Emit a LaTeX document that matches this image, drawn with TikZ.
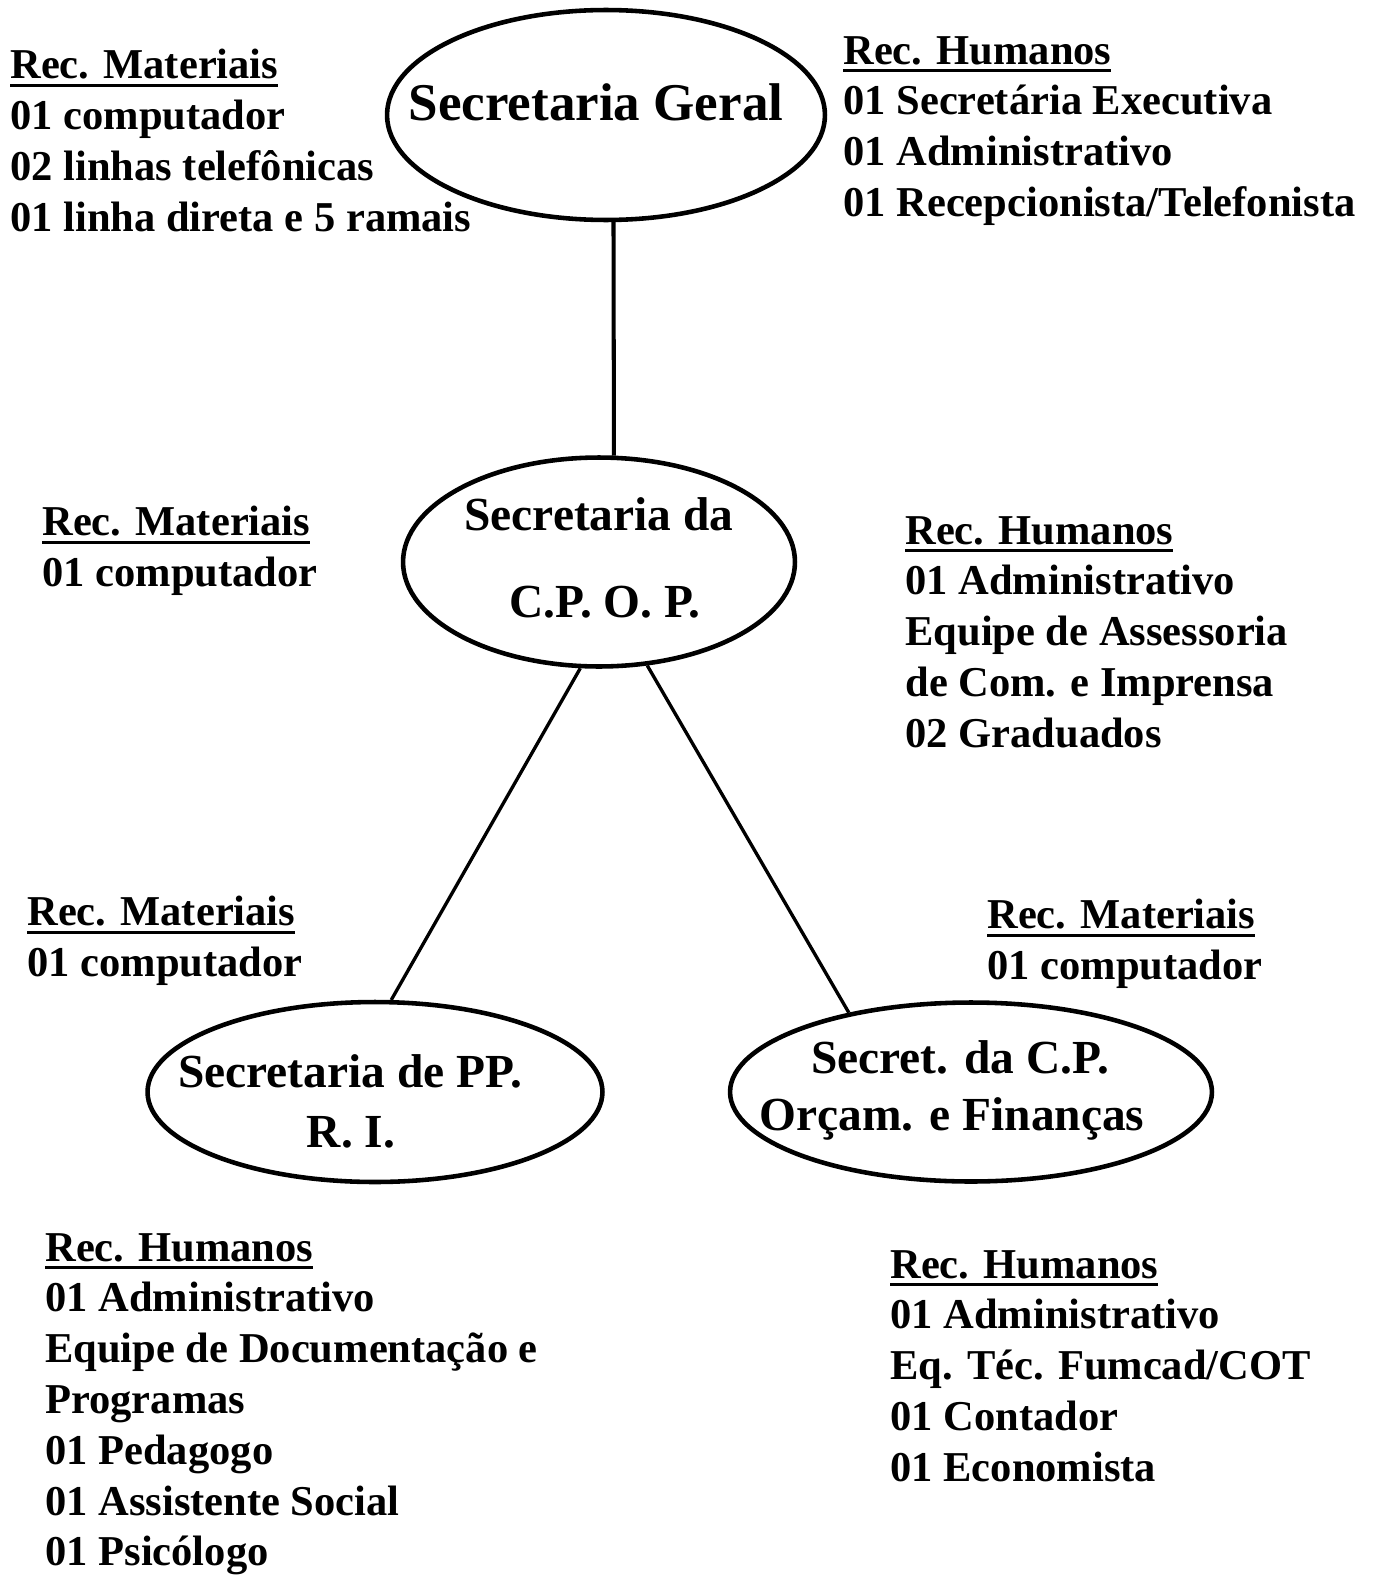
\documentclass[tikz,border=0pt]{standalone}
\usepackage{fontspec}
\setmainfont{Liberation Serif}
\usetikzlibrary{shapes.geometric}
\newcommand\myul[1]{\setbox0\hbox{#1}\rlap{\rule[-4.6pt]{\wd0}{1.7pt}}\box0}
\tikzset{
  ell/.style={shape=ellipse, draw, line width=2.6pt, inner sep=0pt},
  conn/.style={line width=1.9pt},
  info/.style={anchor=north west, inner sep=0pt, align=left,
    font=\bfseries\fontsize{24.2}{28.9}\selectfont},
  etext/.style={anchor=base, inner sep=0pt, align=center,
    font=\bfseries\fontsize{27}{30}\selectfont},
}
\begin{document}
\begin{tikzpicture}[x=0.02cm, y=-0.02cm]
\useasboundingbox[fill=white] (0,0) rectangle (1380,1575);

% ellipses
\node[ell, minimum width=8.76cm, minimum height=4.2cm] (e1) at (606,115) {};
\node[ell, minimum width=7.84cm, minimum height=4.18cm] (e2) at (599,562) {};
\node[ell, minimum width=9.1cm, minimum height=3.6cm] (e3) at (375,1092) {};
\node[ell, minimum width=9.64cm, minimum height=3.58cm] (e4) at (971,1092) {};

% ellipse texts
\node[etext, font=\bfseries\fontsize{30.2}{34}\selectfont] (t1) at (596,120) {Secretaria Geral};
\node[etext] (t2a) at (599,530) {Secretaria da};
\node[etext] (t2b) at (605,617) {C.P. O. P.};
\node[etext] (t3a) at (350,1087) {Secretaria de PP.};
\node[etext] (t3b) at (351,1147) {R. I.};
\node[etext] (t4a) at (960,1073) {Secret. da C.P.};
\node[etext] (t4b) at (952,1130) {Orçam. e Finanças};

% connectors
\draw[conn, line width=2.3pt] (e1.-86) -- (e2.82);
\draw[conn] (e2.-100) -- (e3.80.5);
\draw[conn] (e2.-65.4) -- (e4.147.3);

% info blocks
\node[info] (b1) at (10,49) {\myul{Rec. Materiais}\\01 computador\\02 linhas telefônicas\\01 linha direta e 5 ramais};
\node[info] (b2) at (843,36) {\myul{Rec. Humanos}\\01 Secretária Executiva\\01 Administrativo\\01 Recepcionista/Telefonista};
\node[info] (b3) at (42,506) {\myul{Rec. Materiais}\\01 computador};
\node[info] (b4) at (905,516) {\myul{Rec. Humanos}\\01 Administrativo\\Equipe de Assessoria\\de Com. e Imprensa\\02 Graduados};
\node[info] (b5) at (27,896) {\myul{Rec. Materiais}\\01 computador};
\node[info] (b6) at (987,899) {\myul{Rec. Materiais}\\01 computador};
\node[info] (b7) at (45,1233) {\myul{Rec. Humanos}\\01 Administrativo\\Equipe de Documentação e\\Programas\\01 Pedagogo\\01 Assistente Social\\01 Psicólogo};
\node[info] (b8) at (890,1250) {\myul{Rec. Humanos}\\01 Administrativo\\Eq. Téc. Fumcad/COT\\01 Contador\\01 Economista};
\end{tikzpicture}
\end{document}
